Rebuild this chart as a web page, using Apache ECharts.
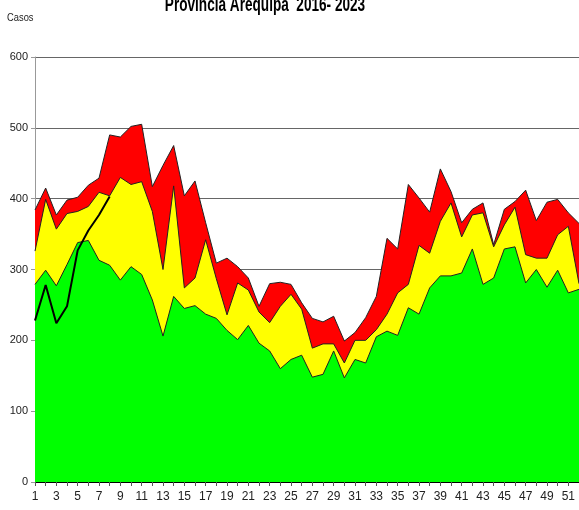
<!DOCTYPE html>
<html>
<head>
<meta charset="utf-8">
<script src="https://cdn.jsdelivr.net/npm/echarts@6.0.0/dist/echarts.min.js"></script>
<style>
    html, body { margin: 0; padding: 0; background: #fff; }
    #canal-chart { width: 579px; height: 510px; }
</style>
</head>
<body>
<div id="canal-chart"></div>
<script>
    // semanas epidemiologicas
    var semanas = [];
    for (var s = 1; s <= 52; s++) { semanas.push(String(s)); }

    // zona de alarma (limite superior)
    var alarma = [384, 415, 377, 398, 402, 419, 429, 490, 487, 502, 505, 417, 447,
        475, 404, 425, 366, 309, 316, 304, 288, 248, 280, 282, 279, 253,
        231, 226, 234, 199, 211, 232, 262, 344, 329, 420, 401, 381, 442,
        410, 366, 385, 394, 335, 385, 396, 412, 369, 395, 399, 380, 365];

    // zona de seguridad
    var seguridad = [326, 399, 357, 379, 382, 389, 409, 404, 430, 420, 424, 382, 300,
        418, 274, 288, 342, 287, 236, 281, 271, 240, 225, 248, 265, 244,
        189, 195, 195, 168, 200, 200, 215, 237, 267, 279, 334, 323, 368,
        394, 346, 377, 380, 332, 363, 388, 321, 316, 316, 349, 361, 280];

    // zona de exito
    var exito = [279, 299, 277, 307, 338, 341, 313, 306, 285, 304, 293, 257, 206,
        262, 245, 249, 237, 231, 214, 201, 221, 196, 185, 160, 173, 179,
        148, 152, 185, 147, 173, 168, 205, 213, 207, 246, 237, 274, 291,
        291, 295, 329, 279, 288, 329, 332, 281, 300, 275, 299, 267, 272];

    // casos 2023
    var casos2023 = [228, 278, 224, 248, 327, 355, 377, 403];

    var yTicks = [0, 100, 200, 300, 400, 500, 600];

    var chart = echarts.init(document.getElementById('canal-chart'));

    function zona(nombre, datos, color) {
        return {
            name: nombre,
            type: 'line',
            data: datos,
            symbol: 'none',
            lineStyle: { color: '#222', width: 1 },
            areaStyle: { color: color, opacity: 1 },
            emphasis: { disabled: true }
        };
    }

    var option = {
        animation: false,
        graphic: [{
            // titulo recortado y estrecho como en el original
            type: 'text',
            x: 265,
            y: 15,
            scaleX: 0.68,
            style: {
                text: 'Provincia Arequipa  2016- 2023',
                font: 'bold 20px "Liberation Sans", Arial',
                fill: '#000',
                align: 'center',
                verticalAlign: 'bottom'
            }
        }, {
            type: 'text',
            x: 7,
            y: 12,
            scaleX: 0.85,
            style: {
                text: 'Casos',
                font: '11px "Liberation Sans", Arial',
                fill: '#222'
            }
        }],
        grid: { left: 35, right: -5, top: 57, bottom: 28 },
        xAxis: {
            type: 'category',
            data: semanas,
            boundaryGap: false,
            axisLine: { lineStyle: { color: '#000', width: 1 } },
            axisTick: { show: true, interval: 0, length: 4, lineStyle: { color: '#555' } },
            axisLabel: {
                interval: 1,
                margin: 9,
                fontSize: 12,
                fontFamily: 'Liberation Sans, Arial',
                color: '#222'
            },
            splitLine: { show: false }
        },
        yAxis: {
            type: 'value',
            min: yTicks[0],
            max: yTicks[yTicks.length - 1],
            interval: 100,
            axisLine: { show: true, lineStyle: { color: '#999', width: 1 } },
            axisTick: { show: true, length: 4, lineStyle: { color: '#999' } },
            axisLabel: {
                margin: 7,
                fontSize: 11,
                fontFamily: 'Liberation Sans, Arial',
                color: '#222'
            },
            splitLine: { show: true, lineStyle: { color: '#666', width: 1 } }
        },
        series: [
            zona('Alarma', alarma, '#ff0000'),
            zona('Seguridad', seguridad, '#ffff00'),
            zona('Exito', exito, '#00ff00'),
            {
                name: '2023',
                type: 'line',
                data: casos2023,
                symbol: 'none',
                lineStyle: { color: '#000', width: 2 },
                emphasis: { disabled: true },
                z: 5
            }
        ]
    };

    chart.setOption(option);
</script>
</body>
</html>
